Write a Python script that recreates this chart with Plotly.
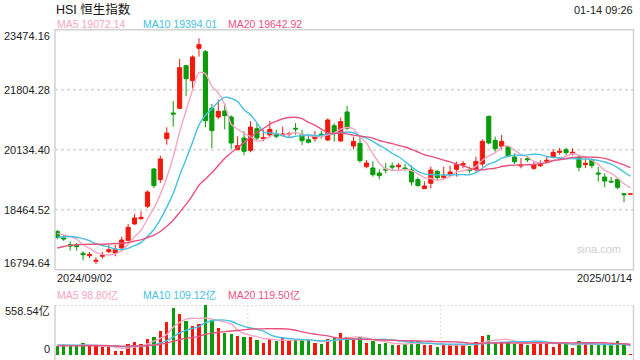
import plotly.graph_objects as go

# ---------------- data ----------------
dates = (
    ["2024/09/%02d" % d for d in [2, 3, 4, 5, 9, 10, 11, 12, 13, 16, 17, 19, 20, 23, 24, 25, 26, 27, 30]]
    + ["2024/10/%02d" % d for d in [2, 3, 4, 7, 8, 9, 10, 14, 15, 16, 17, 18, 21, 22, 23, 24, 25, 28, 29, 30, 31]]
    + ["2024/11/%02d" % d for d in [1, 4, 5, 6, 7, 8, 11, 12, 13, 14, 15, 18, 19, 20, 21, 22, 25, 26, 27, 28, 29]]
    + ["2024/12/%02d" % d for d in [2, 3, 4, 5, 6, 9, 10, 11, 12, 13, 16, 17, 18, 19, 20, 23, 24, 27, 30, 31]]
    + ["2025/01/%02d" % d for d in [2, 3, 6, 7, 8, 9, 10, 13, 14]]
)

opens = [17860, 17680, 17491, 17473, 17250, 17185, 17028, 17167, 17297, 17260,
         17399, 17612, 18067, 18215, 18558, 19597, 19301, 20442, 21156, 21286,
         22473, 22056, 22956, 22863, 21286, 21045, 21212, 21045, 20135, 20460,
         20117, 20720, 20442, 20544, 20581, 20534, 20562, 20729, 20562, 20414,
         20442, 20571, 20404, 20803, 20377, 21184, 20237, 20312, 19662, 19625,
         19486, 19597, 19681, 19662, 19625, 19570, 19301, 19050, 19198, 19532,
         19365, 19449, 19588, 19709, 19588, 19579, 19737, 21063, 20395, 20228,
         20219, 19931, 19681, 19885, 19616, 19690, 19811, 19922, 20061, 20135,
         20033, 19931, 19718, 19839, 19486, 19375, 19254, 19310, 18911, 18895]
highs = [17895, 17770, 17584, 17538, 17306, 17287, 17139, 17287, 17491, 17491,
         17705, 18067, 18345, 18419, 19004, 19625, 19968, 20757, 21490, 22659,
         22501, 22761, 23234, 22909, 21406, 21527, 21406, 21091, 20507, 20646,
         20924, 20868, 20692, 20933, 20683, 20776, 20636, 20878, 20683, 20544,
         20655, 20664, 21007, 20868, 21026, 21351, 20497, 20497, 19848, 19811,
         19588, 19764, 19774, 19764, 19746, 19699, 19365, 19254, 19662, 19570,
         19662, 19681, 19801, 19820, 19662, 19941, 20423, 21082, 20497, 20544,
         20247, 20033, 19904, 19950, 19801, 19839, 19931, 20145, 20182, 20191,
         20173, 19978, 19876, 19894, 19653, 19477, 19375, 19338, 18920, 18902]
lows = [17640, 17590, 17325, 17325, 17055, 17120, 16953, 17102, 17260, 17167,
        17352, 17584, 18048, 18187, 18512, 19069, 19208, 20275, 20776, 21267,
        21620, 21833, 22724, 20757, 20182, 20980, 20701, 20163, 20126, 19978,
        20061, 20404, 20367, 20479, 20451, 20497, 20488, 20553, 20265, 20312,
        20358, 20442, 20377, 20358, 20358, 20683, 20145, 19774, 19616, 19384,
        19310, 19477, 19532, 19579, 19542, 19134, 19106, 19041, 19059, 19291,
        19310, 19384, 19384, 19616, 19477, 19523, 19662, 20284, 20080, 20145,
        19922, 19737, 19616, 19792, 19570, 19653, 19737, 19894, 19996, 19978,
        19978, 19532, 19625, 19616, 19245, 19087, 19217, 19031, 18670, 18895]
closes = [17692, 17651, 17454, 17436, 17213, 17213, 17055, 17195, 17352, 17371,
          17621, 17974, 18234, 18252, 18957, 19134, 19876, 20599, 21128, 22418,
          22111, 22714, 23058, 20943, 20664, 21202, 21082, 20321, 20247, 20089,
          20766, 20460, 20469, 20701, 20507, 20571, 20581, 20711, 20386, 20340,
          20507, 20544, 20961, 20609, 20915, 20729, 20367, 19829, 19764, 19440,
          19412, 19570, 19653, 19699, 19597, 19236, 19134, 19124, 19570, 19356,
          19403, 19514, 19718, 19746, 19560, 19811, 20367, 20321, 20163, 20367,
          19959, 19801, 19709, 19857, 19709, 19718, 19839, 20061, 20089, 20052,
          20061, 19644, 19755, 19690, 19458, 19263, 19236, 19087, 18883, 18902]
# turnover, 100 million HKD (亿)
volumes = [100, 123, 100, 100, 134, 108, 108, 93, 86, 45,
           48, 123, 145, 123, 182, 201, 272, 369, 523, 458,
           378, 326, 348, 558, 389, 302, 248, 238, 210, 203,
           200, 173, 136, 182, 151, 186, 160, 171, 165, 170,
           134, 123, 179, 197, 246, 201, 173, 197, 136, 160,
           125, 136, 108, 115, 123, 153, 153, 115, 115, 89,
           115, 115, 123, 115, 97, 145, 210, 227, 145, 145,
           145, 128, 123, 115, 145, 153, 134, 89, 134, 134,
           78, 153, 123, 115, 115, 115, 108, 153, 115, 11]

# moving-average values before enough history is on the chart
ma5_head = [17806, 17762, 17714, 17644]
ma10_head = [17698, 17712, 17718, 17698, 17658, 17600, 17518, 17468, 17425]
ma20_head = [17400, 17440, 17470, 17490, 17500, 17505, 17503, 17504, 17512, 17522,
             17530, 17550, 17592, 17623, 17690, 17757, 17857, 18002, 18169]
vma5_head = [115, 112, 110, 108]
vma10_head = [110, 110, 110, 109, 110, 108, 107, 105, 102]
vma20_head = [101, 102, 102, 102, 104, 104, 104, 104, 103, 101,
              98, 99, 101, 102, 106, 111, 120, 133, 154]

price_ticks = [16794.64, 18464.52, 20134.40, 21804.28, 23474.16]
vol_ticks = [0, 558.54]
title_text = "HSI 恒生指数"
time_text = "01-14 09:26"
legend_price = [("MA5", 19072.14), ("MA10", 19394.01), ("MA20", 19642.92)]
legend_vol = [("MA5", 98.80), ("MA10", 109.12), ("MA20", 119.50)]

# ---------------- style ----------------
RED = "#f2190c"
GREEN = "#0b9b0b"
C_MA5 = "#f7a5c2"
C_MA10 = "#45c1e2"
C_MA20 = "#e9527f"
GRID = "#dcdcdc"
BORDER = "#d2d2d2"
FONT = "Arial, Liberation Sans, Noto Sans CJK SC, sans-serif"

W, H = 640, 360
def PX(x):
    return x / W
def PY(y):
    return 1 - y / H

L, R = 55, 633.5
MT, MB = 29.7, 269.7
VT, VB = 305, 355
step = 6.44
x0_first = 57.3
xr = [-(x0_first - L) / step, -(x0_first - L) / step + (R - L) / step]


def moving_avg(vals, n, head):
    out = list(head)
    for i in range(len(head), len(vals)):
        out.append(sum(vals[i - n + 1:i + 1]) / n)
    return out


idx = list(range(len(closes)))
ma5 = moving_avg(closes, 5, ma5_head)
ma10 = moving_avg(closes, 10, ma10_head)
ma20 = moving_avg(closes, 20, ma20_head)
vma5 = moving_avg(volumes, 5, vma5_head)
vma10 = moving_avg(volumes, 10, vma10_head)
vma20 = moving_avg(volumes, 20, vma20_head)
vol_colors = [RED if c >= o else GREEN for o, c in zip(opens, closes)]

fig = go.Figure()
fig.add_trace(go.Candlestick(
    x=idx, open=opens, high=highs, low=lows, close=closes,
    increasing=dict(line=dict(color=RED, width=1), fillcolor=RED),
    decreasing=dict(line=dict(color=GREEN, width=1), fillcolor=GREEN),
    whiskerwidth=0, xaxis="x", yaxis="y", text=dates, hoverinfo="text"))
for vals, col in [(ma5, C_MA5), (ma10, C_MA10), (ma20, C_MA20)]:
    fig.add_trace(go.Scatter(x=idx, y=vals, mode="lines",
                             line=dict(color=col, width=1.4, shape="spline", smoothing=0.6),
                             xaxis="x", yaxis="y", hoverinfo="skip"))
fig.add_trace(go.Bar(x=idx, y=volumes, marker=dict(color=vol_colors, line=dict(width=0)),
                     width=0.52, xaxis="x2", yaxis="y2", hoverinfo="skip"))
for vals, col in [(vma5, C_MA5), (vma10, C_MA10), (vma20, C_MA20)]:
    fig.add_trace(go.Scatter(x=idx, y=vals, mode="lines",
                             line=dict(color=col, width=1.4, shape="spline", smoothing=0.6),
                             xaxis="x2", yaxis="y2", hoverinfo="skip"))

ax_common = dict(showgrid=False, zeroline=False, showticklabels=False, showline=False, ticks="")
fig.update_layout(
    width=W, height=H, margin=dict(l=0, r=0, t=0, b=0),
    paper_bgcolor="white", plot_bgcolor="white", showlegend=False,
    boxgap=0.2, boxgroupgap=0.2, bargap=0,
    xaxis=dict(domain=[PX(L), PX(R)], range=xr, rangeslider=dict(visible=False), **ax_common),
    yaxis=dict(domain=[PY(MB), PY(MT)], range=[price_ticks[0], price_ticks[-1]], **ax_common),
    xaxis2=dict(domain=[PX(L), PX(R)], range=xr, anchor="y2", **ax_common),
    yaxis2=dict(domain=[PY(VB), PY(VT)], range=[vol_ticks[0], vol_ticks[-1]], anchor="x2", **ax_common),
    font=dict(family=FONT),
)

shapes = []
# main grid
for v in price_ticks[1:-1]:
    shapes.append(dict(type="line", xref="paper", yref="y", x0=PX(L), x1=PX(R), y0=v, y1=v,
                       line=dict(color=GRID, width=2, dash="3px,3px"), layer="below"))
# main border
shapes.append(dict(type="rect", xref="paper", yref="paper", x0=PX(L), x1=PX(R), y0=PY(MB), y1=PY(MT),
                   line=dict(color=BORDER, width=1.5)))
# volume panel
for v in vol_ticks:
    shapes.append(dict(type="line", xref="paper", yref="y2", x0=PX(L), x1=PX(R), y0=v, y1=v,
                       line=dict(color=GRID, width=2, dash="2px,2px"), layer="below"))
for xx in [L, R]:
    shapes.append(dict(type="line", xref="paper", yref="paper", x0=PX(xx), x1=PX(xx), y0=PY(VT), y1=0,
                       line=dict(color=BORDER, width=1.5)))
for k in [1, 2]:
    xx = L + (R - L) * k / 3
    shapes.append(dict(type="line", xref="paper", yref="paper", x0=PX(xx), x1=PX(xx), y0=PY(VT), y1=PY(VB),
                       line=dict(color=GRID, width=1, dash="2px,2px"), layer="below"))
fig.update_layout(shapes=shapes)

ann = []
def text(x, y, s, size, color, xanchor="left", yanchor="middle"):
    ann.append(dict(x=PX(x), y=PY(y), xref="paper", yref="paper", text=s, showarrow=False,
                    font=dict(size=size, color=color, family=FONT), xanchor=xanchor, yanchor=yanchor,
                    xshift=0, yshift=0))

text(54, 9, title_text, 12.5, "#111")
text(635, 10, time_text, 11, "#222", xanchor="right")
leg_x = [55, 141, 225.5]
cols = [C_MA5, C_MA10, C_MA20]
for (name, val), xx, col in zip(legend_price, leg_x, cols):
    text(xx, 24, "%s %.2f" % (name, val), 10.5, col)
for (name, val), xx, col in zip(legend_vol, leg_x, cols):
    text(xx, 294.5, "%s %.2f亿" % (name, val), 10.5, col)

# price axis labels
for i, v in enumerate(price_ticks):
    ypix = MB - (v - price_ticks[0]) / (price_ticks[-1] - price_ticks[0]) * (MB - MT)
    if i == 0:
        ypix -= 6.5
    elif i == len(price_ticks) - 1:
        ypix += 6
    text(52, ypix, "%.2f" % v, 11, "#222", xanchor="right")
text(55, 277.5, dates[0], 11, "#222")
text(634, 277.5, dates[-1], 11, "#222", xanchor="right")
text(52, 311, "%.2f亿" % vol_ticks[1], 11, "#222", xanchor="right")
text(52, 348.5, "%d" % vol_ticks[0], 11, "#222", xanchor="right")
text(623, 249, "sina.com", 11, "#cfcfcf", xanchor="right")
fig.update_layout(annotations=ann)

fig.write_html("out.html", config={"displayModeBar": False},
               post_script="document.body.style.margin='0';document.body.style.padding='0';"
                           "document.body.style.overflow='hidden';")
